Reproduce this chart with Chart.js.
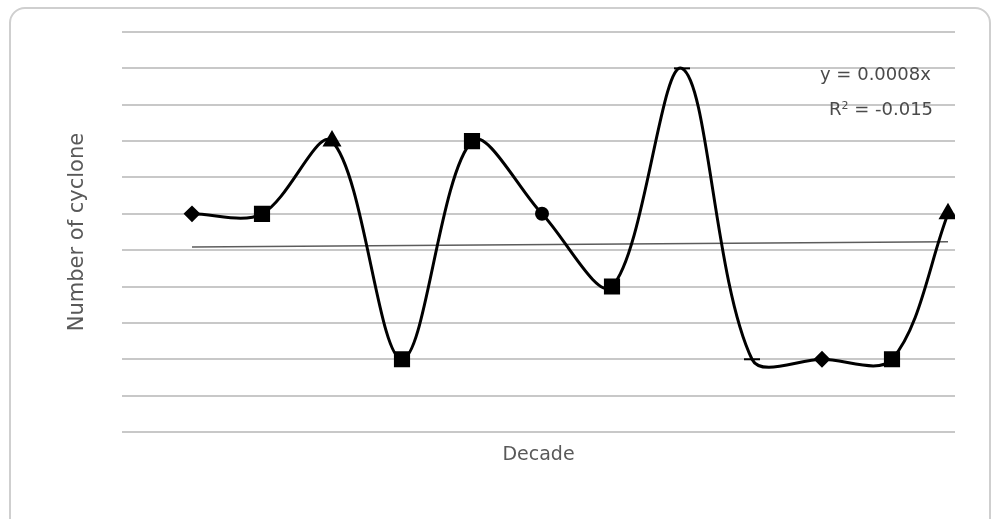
<!DOCTYPE html>
<html>
<head>
<meta charset="utf-8">
<script src="https://cdn.jsdelivr.net/npm/chart.js@4.4.0/dist/chart.umd.min.js"></script>
<style>
    html, body { margin: 0; padding: 0; background: #fff; }
    body { width: 992px; height: 519px; overflow: hidden; position: relative; }
    #frame {
        position: absolute; left: 9px; top: 7px; width: 978px; height: 530px;
        border: 2px solid #cfcfcf; border-radius: 16px;
    }
    #cyclones { position: absolute; left: 0; top: 0; }
    .eq {
        position: absolute; font-family: "DejaVu Sans", sans-serif; font-size: 18px;
        color: #4a4a4a; white-space: nowrap; line-height: 20px;
    }
    .eq sup { font-size: 11px; vertical-align: 6px; line-height: 0; }
</style>
</head>
<body>
<div id="frame"></div>
<canvas id="cyclones" width="992" height="519"></canvas>
<div class="eq" style="left:820px; top:64px;">y = 0.0008x</div>
<div class="eq" style="left:829px; top:99px;">R<sup>2</sup> = -0.015</div>
<script>
// decade index (position along the x axis) and cyclone counts
const decades = [1, 2, 3, 4, 5, 6, 7, 8, 9, 10, 11, 11.8];
const cyclones = [6, 6, 8, 2, 8, 6, 4, 10, 2, 2, 2, 6];
const markers = ['rectRot', 'rect', 'triangle', 'rect', 'rect', 'circle', 'rect', 'line', 'line', 'rectRot', 'rect', 'triangle'];
const markerSizes = [7, 10, 9, 10, 10, 6, 10, 8, 8, 7, 10, 9];

// linear trend line ends
const trendX = [1, 11.8];
const trendY = [5.09, 5.23];

const yTicks = { min: 0, max: 11, step: 1 };

const ctx = document.getElementById('cyclones').getContext('2d');
const cycloneChart = new Chart(ctx, {
    type: 'line',
    data: {
        datasets: [{
            label: 'Number of cyclone',
            data: decades.map((d, i) => ({ x: d, y: cyclones[i] })),
            borderColor: '#000',
            borderWidth: 3,
            tension: 0.33,
            pointStyle: markers,
            pointRadius: markerSizes,
            pointBackgroundColor: '#000',
            pointBorderColor: '#000',
            pointBorderWidth: 2,
        }, {
            label: 'Linear trend',
            data: trendX.map((d, i) => ({ x: d, y: trendY[i] })),
            borderColor: '#5c5c5c',
            borderWidth: 1.5,
            pointRadius: 0,
            tension: 0,
        }],
    },
    options: {
        responsive: false,
        animation: false,
        layout: { padding: { left: 65.4, right: 37, top: 32, bottom: 52.6 } },
        plugins: { legend: { display: false }, tooltip: { enabled: false } },
        scales: {
            x: {
                type: 'linear',
                min: 0,
                max: 11.9,
                ticks: { display: false },
                grid: { display: false, drawTicks: false },
                border: { display: false },
                title: {
                    display: true,
                    text: 'Decade',
                    color: '#595959',
                    font: { family: 'DejaVu Sans', size: 19, lineHeight: 1.2 },
                    padding: { top: 11.6, bottom: 0 },
                },
            },
            y: {
                min: yTicks.min,
                max: yTicks.max,
                ticks: { display: false, stepSize: yTicks.step },
                grid: { color: '#c8c8c8', lineWidth: 2, drawTicks: false },
                border: { display: false },
                title: {
                    display: true,
                    text: 'Number of cyclone',
                    color: '#595959',
                    font: { family: 'DejaVu Sans', size: 21, lineHeight: 1.2 },
                    padding: { top: 0, bottom: 31.4 },
                },
            },
        },
    },
});
</script>
</body>
</html>
